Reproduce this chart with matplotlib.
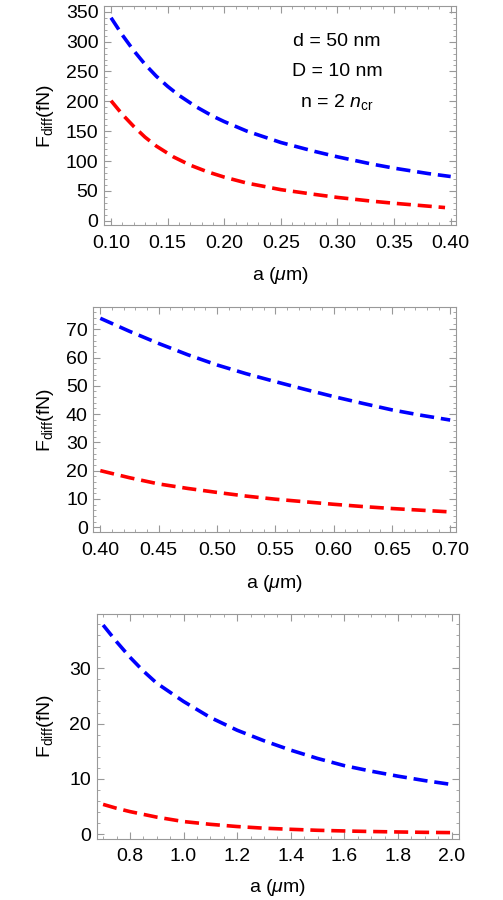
import matplotlib
matplotlib.use('Agg')
import matplotlib.pyplot as plt
from matplotlib.ticker import MultipleLocator, FormatStrFormatter

plt.rcParams.update({
    'font.family': ['Liberation Sans', 'DejaVu Sans'],
    'font.size': 14,
    'mathtext.fontset': 'custom',
    'mathtext.rm': 'Liberation Sans',
    'mathtext.it': 'Liberation Sans:italic',
    'axes.edgecolor': '#999999',
    'axes.linewidth': 0.8,
})

# panel 1: a = 0.10 .. 0.40 um
a1_blue = [0.10, 0.11, 0.12, 0.13, 0.14, 0.15, 0.16, 0.175, 0.19, 0.20, 0.22, 0.25, 0.28, 0.30, 0.33, 0.35, 0.38, 0.40]
f1_blue = [340, 311, 285, 262, 242, 225, 210, 191, 175, 166, 150, 131, 116, 107, 95, 88, 79, 74]
a1_red = [0.10, 0.11, 0.12, 0.13, 0.14, 0.155, 0.17, 0.185, 0.20, 0.22, 0.25, 0.28, 0.30, 0.33, 0.35, 0.37, 0.395]
f1_red = [201, 178, 158, 140, 125, 107, 93, 82, 73, 63, 52, 44, 39, 32.8, 29.2, 26.0, 22.0]

# panel 2: a = 0.40 .. 0.70 um
a2 = [0.40, 0.425, 0.45, 0.475, 0.50, 0.525, 0.55, 0.575, 0.60, 0.625, 0.65, 0.675, 0.70]
f2_blue = [73.9, 69.3, 65.0, 61.0, 57.4, 54.3, 51.5, 48.8, 46.2, 43.8, 41.5, 39.6, 37.9]
f2_red = [20.0, 17.5, 15.3, 13.7, 12.3, 11.0, 9.9, 9.0, 8.1, 7.3, 6.6, 6.0, 5.4]

# panel 3: a = 0.7 .. 2.0 um
a3 = [0.70, 0.75, 0.80, 0.85, 0.90, 1.00, 1.10, 1.20, 1.30, 1.40, 1.50, 1.60, 1.70, 1.80, 1.90, 2.00]
f3_blue = [37.8, 34.8, 32.0, 29.5, 27.3, 24.0, 21.1, 18.8, 16.9, 15.2, 13.7, 12.4, 11.4, 10.5, 9.7, 9.0]
f3_red = [5.4, 4.7, 4.1, 3.6, 3.1, 2.3, 1.8, 1.4, 1.1, 0.9, 0.72, 0.6, 0.5, 0.42, 0.35, 0.3]

panels = [
    dict(pos=[0.2068, 0.750, 0.6998, 0.2433], xlim=(0.0938, 0.4047), ylim=(-7.2, 359.6),
         xmaj=0.05, xmin=0.01, ymaj=50, ymin=10, xfmt='%.2f',
         blue=(a1_blue, f1_blue), red=(a1_red, f1_red), ylab_y=0.8715, xlab_y=0.6944),
    dict(pos=[0.1855, 0.4086, 0.7211, 0.2500], xlim=(0.394, 0.705), ylim=(-1.8, 77.8),
         xmaj=0.05, xmin=0.01, ymaj=10, ymin=2, xfmt='%.2f',
         blue=(a2, f2_blue), red=(a2, f2_red), ylab_y=0.5336, xlab_y=0.352),
    dict(pos=[0.1922, 0.0681, 0.7209, 0.2497], xlim=(0.676, 2.029), ylim=(-0.8, 39.8),
         xmaj=0.2, xmin=0.05, ymaj=10, ymin=2, xfmt='%.1f',
         blue=(a3, f3_blue), red=(a3, f3_red), ylab_y=0.193, xlab_y=0.0144),
]

fig = plt.figure(figsize=(5.03, 9.0), dpi=100)
dash = (0, (3.9, 1.9))

for p in panels:
    ax = fig.add_axes(p['pos'])
    ax.plot(*p['blue'], color='#0000ff', lw=2.6, linestyle=dash)
    ax.plot(*p['red'], color='#ff0000', lw=2.6, linestyle=dash)
    ax.set_xlim(p['xlim'])
    ax.set_ylim(p['ylim'])
    ax.xaxis.set_major_locator(MultipleLocator(p['xmaj']))
    ax.xaxis.set_minor_locator(MultipleLocator(p['xmin']))
    ax.yaxis.set_major_locator(MultipleLocator(p['ymaj']))
    ax.yaxis.set_minor_locator(MultipleLocator(p['ymin']))
    ax.xaxis.set_major_formatter(FormatStrFormatter(p['xfmt']))
    ax.tick_params(which='both', direction='in', top=True, right=True,
                   color='#999999', labelsize=14, labelcolor='black')
    ax.tick_params(which='major', length=5, width=0.8)
    ax.tick_params(which='minor', length=2.5, width=0.6)
    ax.tick_params(axis='y', pad=4)
    ax.tick_params(axis='x', pad=7)
    fig.text(0.0895, p['ylab_y'], r'F$_{\mathrm{diff}}$(fN)', rotation=90,
             ha='center', va='center', fontsize=14)
    fig.text(p['pos'][0] + p['pos'][2] / 2, p['xlab_y'], r'a ($\mu$m)',
             ha='center', va='center', fontsize=14)
    if p is panels[0]:
        ax.text(0.662, 0.836, 'd = 50 nm', transform=ax.transAxes, ha='center', va='center')
        ax.text(0.662, 0.703, 'D = 10 nm', transform=ax.transAxes, ha='center', va='center')
        ax.text(0.662, 0.562, r'n = 2 $n_{\mathrm{cr}}$', transform=ax.transAxes,
                ha='center', va='center')

fig.savefig('out.png', dpi=100)
